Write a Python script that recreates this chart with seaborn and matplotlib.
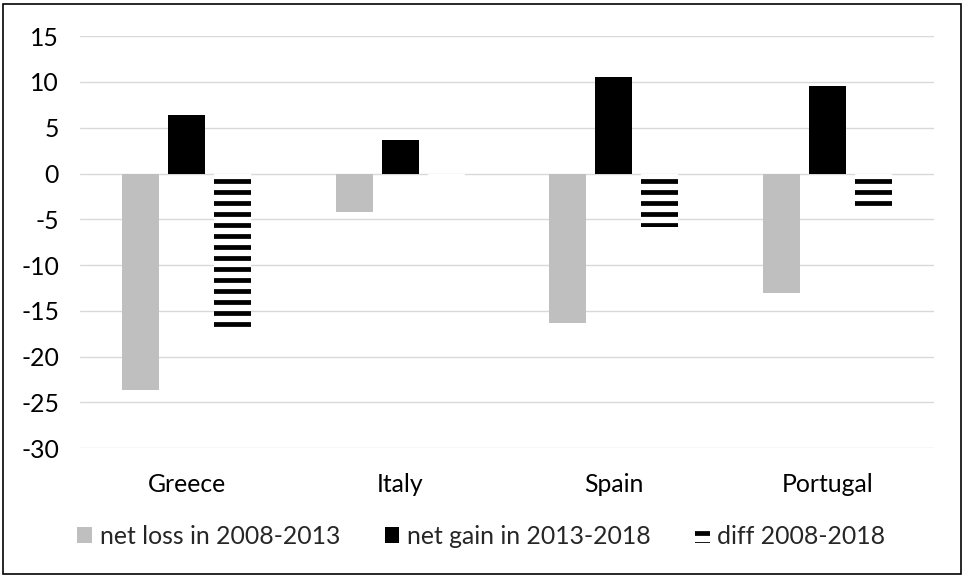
import matplotlib
matplotlib.use("Agg")
import matplotlib.pyplot as plt
import pandas as pd
import seaborn as sns
from matplotlib.patches import Rectangle

# Employment change by country (percentage points)
countries = ["Greece", "Italy", "Spain", "Portugal"]
net_loss = [-23.6, -4.2, -16.3, -13.1]
net_gain = [6.4, 3.7, 10.5, 9.6]
diff = [-17.2, -0.5, -5.8, -3.5]
series_names = ["net loss in 2008-2013", "net gain in 2013-2018", "diff 2008-2018"]
y_ticks = [-30, -25, -20, -15, -10, -5, 0, 5, 10, 15]

df = pd.DataFrame({
    "country": countries * 3,
    "series": [s for s in series_names for _ in countries],
    "value": net_loss + net_gain + diff,
})

sns.set_theme(style="white")
plt.rcParams["font.family"] = ["Lato", "DejaVu Sans"]
plt.rcParams["hatch.linewidth"] = 2.6

DPI = 132
W, H = 963, 577
fig = plt.figure(figsize=(W / DPI, H / DPI), dpi=DPI)
ax = fig.add_axes([80 / W, 128.8 / H, 854 / W, 412 / H])

sns.barplot(
    data=df, x="country", y="value", hue="series",
    order=countries, hue_order=series_names,
    palette=["#BFBFBF", "#000000", "#FFFFFF"],
    saturation=1, width=0.645, gap=0.195, linewidth=0,
    errorbar=None, legend=False, ax=ax,
)

# striped fill for the overall difference
for bar in ax.containers[2]:
    bar.set_hatch("--")
    bar.set_edgecolor("black")
    bar.set_linewidth(0)

ax.set_ylim(-30, 15)
ax.set_yticks(y_ticks)
ax.set_yticklabels([str(t) for t in y_ticks])
ax.set_xlim(-0.5, 3.5)
ax.yaxis.grid(True, color="#D9D9D9", linewidth=0.75)
ax.set_axisbelow(True)
for s in ax.spines.values():
    s.set_visible(False)
ax.tick_params(axis="both", length=0, labelsize=13.5, colors="black")
ax.tick_params(axis="y", pad=11.5)
ax.tick_params(axis="x", pad=13.5)
ax.set_xlabel("")
ax.set_ylabel("")

handles = [c[0] for c in ax.containers]
fig.legend(
    handles, series_names, loc="center", bbox_to_anchor=(0.5, 1 - 536 / H),
    ncol=3, frameon=False, fontsize=13.5, handlelength=0.6, handleheight=0.6,
    handletextpad=0.3, columnspacing=1.8,
)

fig.patches.append(Rectangle((2.5 / W, 3.5 / H), 958.5 / W, 570 / H,
                             transform=fig.transFigure, fill=False,
                             edgecolor="black", linewidth=0.9))

fig.savefig("out.png", dpi=DPI)
